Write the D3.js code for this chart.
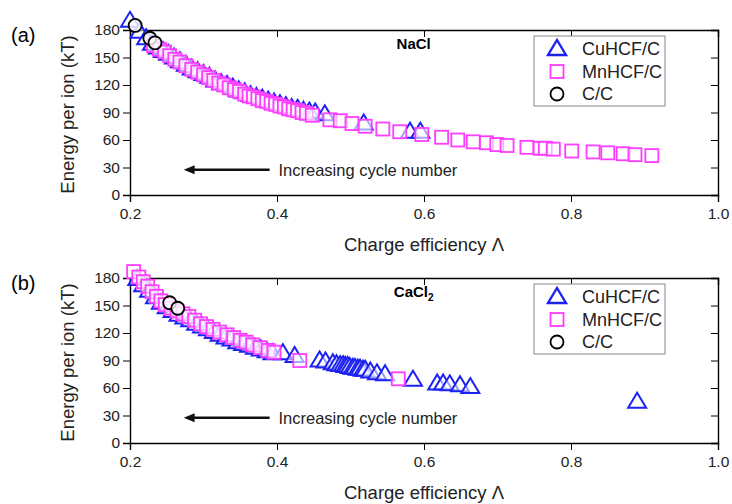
<!DOCTYPE html>
<html>
<head>
<meta charset="utf-8">
<script src="https://cdn.jsdelivr.net/npm/d3@7"></script>
<style>
  body { margin: 0; background: #fff; }
  text { font-family: Arial, "Liberation Sans", sans-serif; }
</style>
</head>
<body>
<script>
// Chart values: [charge efficiency, energy per ion (kT)]
var cuhcfNaCl = [
  [0.200,190],[0.213,178],[0.222,171],[0.230,165],[0.238,161],[0.245,157],[0.252,154],
  [0.260,150],[0.268,146],[0.276,142],[0.284,138],[0.292,135],[0.300,132],[0.308,129],
  [0.316,125],[0.324,122],[0.332,120],[0.340,117],[0.348,114],[0.356,112],[0.364,109],
  [0.372,107],[0.380,105],[0.388,103],[0.396,101],[0.404,99],[0.412,97],[0.420,95],
  [0.428,94],[0.436,92],[0.444,91],[0.452,90],[0.465,88],[0.518,78],[0.581,69],[0.595,69]
];
var mnhcfNaCl = [
  [0.232,163],[0.240,159],[0.247,156],[0.254,152],[0.261,148],[0.268,145],[0.276,141],
  [0.284,137],[0.292,134],[0.300,131],[0.307,128],[0.314,125],[0.321,122],[0.328,120],
  [0.335,117],[0.342,115],[0.349,113],[0.356,110],[0.362,108],[0.368,107],[0.374,105],
  [0.380,103],[0.386,102],[0.392,100],[0.398,99],[0.404,97],[0.410,96],[0.416,94],
  [0.422,93],[0.428,92],[0.434,90],[0.440,89],[0.448,87],[0.472,82],[0.486,81],
  [0.502,78],[0.520,75],[0.544,72],[0.567,69],[0.597,66],[0.624,63],[0.646,60],
  [0.667,58],[0.685,57],[0.699,55],[0.713,54],[0.740,52],[0.758,51],[0.765,51],
  [0.776,50],[0.801,48],[0.830,47],[0.850,46],[0.871,45],[0.887,44],[0.910,43]
];
var ccNaCl = [[0.207,185],[0.227,171],[0.234,166]];

var cuhcfCaCl2 = [
  [0.210,179],[0.218,172],[0.226,166],[0.234,159],[0.242,153],[0.250,148],[0.258,144],
  [0.266,140],[0.274,137],[0.282,134],[0.290,130],[0.298,127],[0.306,124],[0.314,121],
  [0.322,118],[0.330,115],[0.338,113],[0.346,110],[0.354,108],[0.362,106],[0.370,104],
  [0.378,102],[0.386,100],[0.394,98],[0.408,98],[0.424,95],[0.458,90],[0.466,89],
  [0.476,87],[0.481,86],[0.486,85],[0.490,85],[0.493,84],[0.496,84],[0.499,83],
  [0.503,82],[0.506,82],[0.510,81],[0.513,81],[0.517,80],[0.520,80],[0.527,78],
  [0.536,76],[0.547,75],[0.585,69],[0.618,65],[0.626,65],[0.635,64],[0.649,63],
  [0.663,61],[0.890,45]
];
var mnhcfCaCl2 = [
  [0.205,187],[0.212,181],[0.218,176],[0.224,171],[0.230,165],[0.236,160],[0.242,155],
  [0.248,151],[0.256,147],[0.264,144],[0.272,141],[0.280,138],[0.288,134],[0.296,130],
  [0.304,127],[0.313,124],[0.322,121],[0.332,118],[0.341,115],[0.350,112],[0.358,110],
  [0.367,107],[0.377,104],[0.388,101],[0.396,99],[0.431,90],[0.565,70]
];
var ccCaCl2 = [[0.254,153],[0.265,147]];

var xTicks = [0.2, 0.4, 0.6, 0.8, 1.0];
var yTicks = [0, 30, 60, 90, 120, 150, 180];
var seriesNames = ["CuHCF/C", "MnHCF/C", "C/C"];

var blue = "#1c22f2";
var pink = "#ff3cff";

var svg = d3.select("body").append("svg")
    .attr("width", 732)
    .attr("height", 504);

var x = d3.scaleLinear().domain([0.2, 1.0]).range([130, 718]);

// triangle outline, 18 wide and 15 tall
function triangle(g) {
  return g.append("path").attr("d", "M0,-9L9,6L-9,6Z")
    .attr("fill", "#fff").attr("fill-opacity", 0.55)
    .attr("stroke", blue).attr("stroke-width", 2);
}
function square(g) {
  return g.append("rect").attr("x", -6.5).attr("y", -6.5).attr("width", 13).attr("height", 13)
    .attr("fill", "#fff").attr("fill-opacity", 0.6)
    .attr("stroke", pink).attr("stroke-width", 1.8);
}
function circle(g) {
  return g.append("circle").attr("r", 6.5)
    .attr("fill", "#fff").attr("fill-opacity", 0.8)
    .attr("stroke", "#000").attr("stroke-width", 1.8);
}

function panel(top, bottom, letter, salt, cu, mn, cc) {
  var y = d3.scaleLinear().domain([0, 180]).range([bottom, top]);
  var g = svg.append("g");

  // axes: left and bottom ticks outside, top and right ticks inside
  g.append("g").attr("transform", "translate(0," + bottom + ")")
    .call(d3.axisBottom(x).tickValues(xTicks).tickFormat(d3.format(".1f")).tickSizeOuter(0).tickSize(7))
    .call(a => a.select(".domain").attr("stroke-width", 1.4))
    .call(a => a.selectAll("text").attr("font-size", 15.5).attr("fill", "#222").attr("dy", "0.9em"));
  g.append("g").attr("transform", "translate(0," + top + ")")
    .call(d3.axisBottom(x).tickValues(xTicks).tickFormat("").tickSizeOuter(0).tickSize(7))
    .call(a => a.select(".domain").attr("stroke-width", 1.4));
  g.append("g").attr("transform", "translate(130,0)")
    .call(d3.axisLeft(y).tickValues(yTicks).tickSizeOuter(0).tickSize(7))
    .call(a => a.select(".domain").attr("stroke-width", 1.4))
    .call(a => a.selectAll("text").attr("font-size", 15.5).attr("fill", "#222").attr("x", -10));
  g.append("g").attr("transform", "translate(718,0)")
    .call(d3.axisLeft(y).tickValues(yTicks).tickFormat("").tickSizeOuter(0).tickSize(7))
    .call(a => a.select(".domain").attr("stroke-width", 1.4));

  // titles
  g.append("text").attr("x", 11).attr("y", top + 12)
    .attr("font-family", "Lato, 'Open Sans', sans-serif").attr("font-size", 20).text(letter);
  g.append("text")
    .attr("transform", "translate(74," + ((top + bottom) / 2 + 2) + ") rotate(-90)")
    .attr("text-anchor", "middle").attr("font-size", 18.5).attr("fill", "#222")
    .text("Energy per ion (kT)");
  g.append("text").attr("x", (130 + 718) / 2).attr("y", bottom + 56)
    .attr("text-anchor", "middle").attr("font-size", 18.5).attr("fill", "#222")
    .text("Charge efficiency \u039B");

  // salt label
  var s = g.append("text").attr("x", x(0.586)).attr("y", y(159))
    .attr("text-anchor", "middle").attr("font-size", 15).attr("font-weight", "bold");
  s.append("tspan").text(salt[0]);
  if (salt[1]) s.append("tspan").attr("font-size", 10).attr("dy", 4).text(salt[1]);

  // arrow annotation
  g.append("line").attr("x1", x(0.39)).attr("x2", x(0.283))
    .attr("y1", y(27.5)).attr("y2", y(27.5))
    .attr("stroke", "#111").attr("stroke-width", 2.6);
  g.append("path")
    .attr("d", "M" + x(0.273) + "," + y(27.5) + "l11,-4.5l0,9Z")
    .attr("fill", "#111");
  g.append("text").attr("x", x(0.402)).attr("y", y(27.5))
    .attr("dy", "0.35em").attr("font-family", "Lato, 'Open Sans', sans-serif")
    .attr("font-size", 16.5).attr("fill", "#222").text("Increasing cycle number");

  // markers
  cu.forEach(function (d) {
    triangle(g.append("g").attr("transform", "translate(" + x(d[0]) + "," + y(d[1]) + ")"));
  });
  mn.forEach(function (d) {
    square(g.append("g").attr("transform", "translate(" + x(d[0]) + "," + y(d[1]) + ")"));
  });
  cc.forEach(function (d) {
    circle(g.append("g").attr("transform", "translate(" + x(d[0]) + "," + y(d[1]) + ")"));
  });

  // legend
  var lg = g.append("g").attr("transform", "translate(534," + (top + 6) + ")");
  lg.append("rect").attr("width", 131).attr("height", 70)
    .attr("fill", "#fff").attr("stroke", "#888").attr("stroke-width", 1);
  var makers = [triangle, square, circle];
  seriesNames.forEach(function (name, i) {
    var row = lg.append("g").attr("transform", "translate(23," + (13 + i * 22.5) + ")");
    var m = makers[i](row);
    if (i === 0) m.attr("stroke-width", 2.4).attr("fill-opacity", 1);
    row.append("text").attr("x", 25).attr("dy", "0.36em")
      .attr("font-size", 18).attr("fill", "#222").text(name);
  });
}

panel(30, 195, "(a)", ["NaCl"], cuhcfNaCl, mnhcfNaCl, ccNaCl);
panel(278, 443, "(b)", ["CaCl", "2"], cuhcfCaCl2, mnhcfCaCl2, ccCaCl2);
</script>
</body>
</html>
